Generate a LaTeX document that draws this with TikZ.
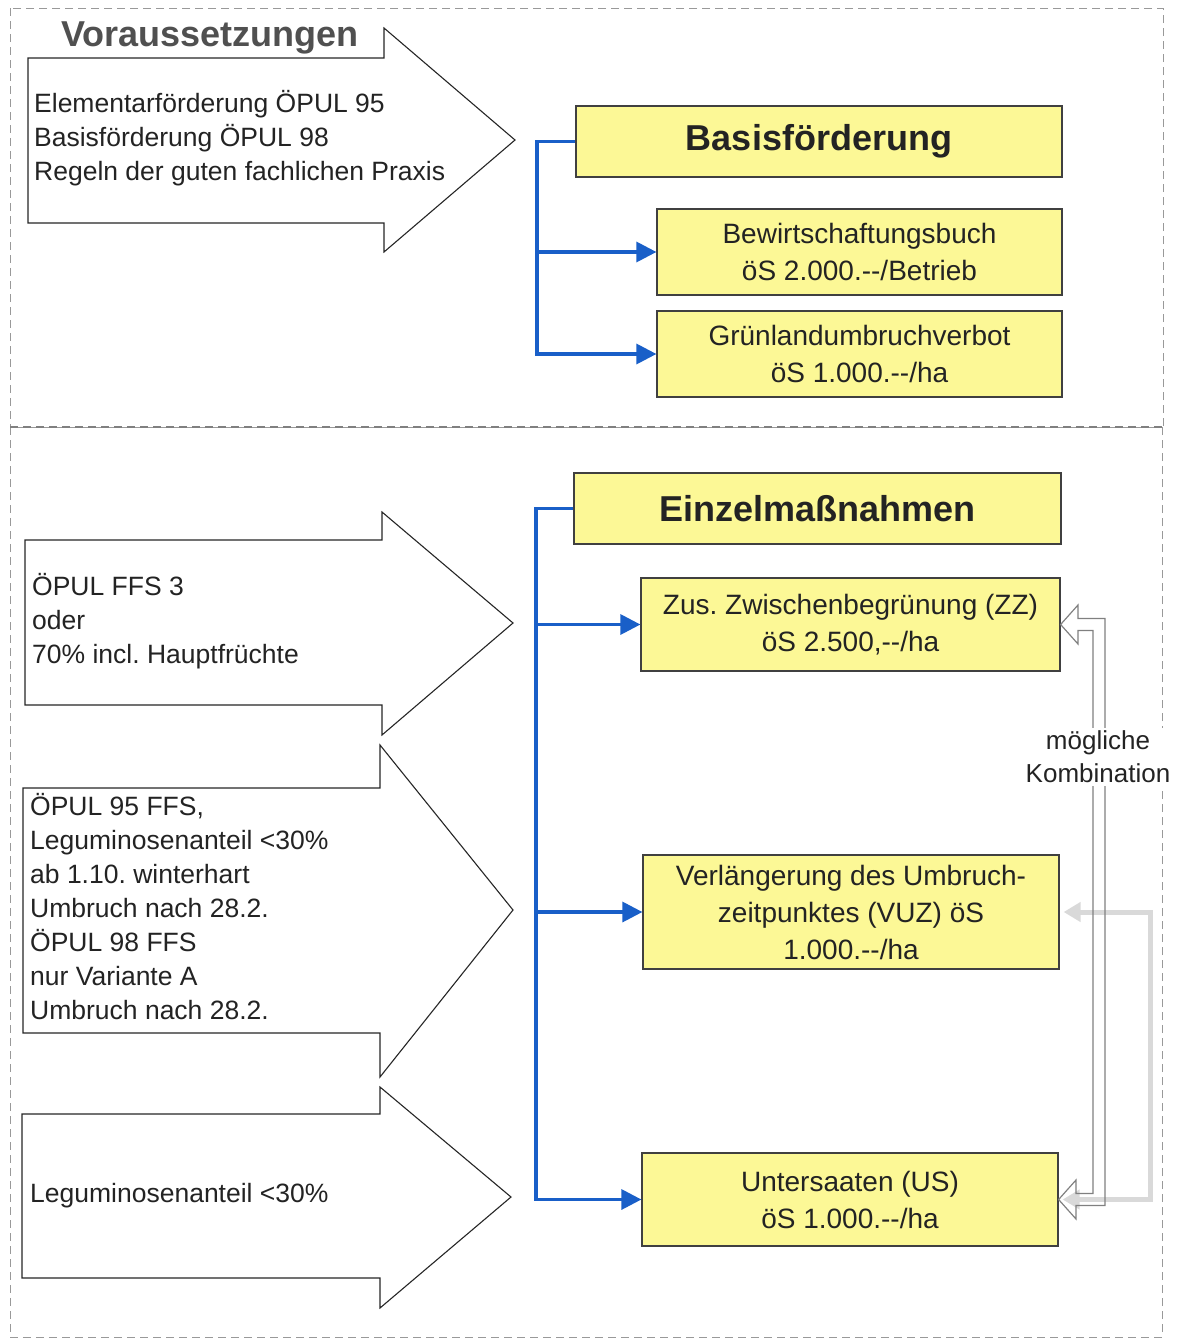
\documentclass[tikz,border=0pt]{standalone}
\usepackage{fontspec}
\setmainfont{Liberation Sans}
\usetikzlibrary{arrows.meta}
\definecolor{boxyellow}{RGB}{252,248,150}
\definecolor{connblue}{RGB}{25,95,200}
\definecolor{txt}{RGB}{35,35,35}
\definecolor{titlegray}{RGB}{80,80,80}
\frenchspacing
\begin{document}
\frenchspacing
\begin{tikzpicture}[x=1pt,y=-1pt,
  frame/.style={draw=gray!80, dash pattern=on 8pt off 5pt, line width=1pt},
  midframe/.style={draw=gray, dash pattern=on 8pt off 5pt, line width=1.2pt},
  blockarrow/.style={draw=black!85, fill=white, line width=1.1pt, line join=miter},
  ybox/.style={draw=black!75, fill=boxyellow, line width=1.2pt, inner sep=0pt, align=center, text=txt, font=\fontsize{28}{37}\selectfont},
  headbox/.style={ybox, font=\fontsize{36}{40}\selectfont\bfseries},
  lefttext/.style={anchor=west, inner sep=0pt, align=left, text=txt, font=\fontsize{26.5}{34}\selectfont},
  conn/.style={draw=connblue, line width=3.2pt, -{Triangle[length=20pt,width=20pt]}},
  grayconn/.style={draw=gray!30, line width=5pt, {Triangle[length=17pt,width=19pt]}-{Triangle[length=17pt,width=19pt]}},
  hollow/.style={draw=gray, line width=1.2pt, line join=miter}
]
\useasboundingbox (0,0) rectangle (1182,1341);

% dashed frames
\draw[frame] (10,8) rectangle (1163,427);
\draw[frame] (10,427) rectangle (1162,1337);
\draw[midframe] (10,427) -- (1163,427);

% block arrows
\draw[blockarrow] (28,58) -- (384,58) -- (384,28) -- (515,140) -- (384,252) -- (384,223) -- (28,223) -- cycle;
\draw[blockarrow] (25,540) -- (382,540) -- (382,512) -- (513,623) -- (382,735) -- (382,705) -- (25,705) -- cycle;
\draw[blockarrow] (23,788) -- (380,788) -- (380,745) -- (513,910) -- (380,1077) -- (380,1033) -- (23,1033) -- cycle;
\draw[blockarrow] (22,1114) -- (380,1114) -- (380,1087) -- (511,1197) -- (380,1308) -- (380,1278) -- (22,1278) -- cycle;

\node[anchor=center, inner sep=0pt, text=titlegray, font=\fontsize{36}{40}\selectfont\bfseries] (vor) at (210,38) {Voraussetzungen};

\node[lefttext] (t1) at (34,138) {Elementarförderung ÖPUL 95\\Basisförderung ÖPUL 98\\Regeln der guten fachlichen Praxis};
\node[lefttext] (t2) at (32,621) {ÖPUL FFS 3\\oder\\70\% incl. Hauptfrüchte};
\node[lefttext] (t3) at (30,907) {ÖPUL 95 FFS,\\Leguminosenanteil <30\%\\ab 1.10. winterhart\\Umbruch nach 28.2.\\ÖPUL 98 FFS\\nur Variante A\\Umbruch nach 28.2.};
\node[lefttext] (t4) at (30,1196) {Leguminosenanteil <30\%};

% yellow boxes
\node[headbox, minimum width=486pt, minimum height=71pt] (basis) at (819,141.5) {Basisförderung};
\node[ybox, minimum width=405pt, minimum height=86pt] (bew) at (859.5,252) {Bewirtschaftungsbuch\\öS 2.000.-{}-/Betrieb};
\node[ybox, minimum width=405pt, minimum height=86pt] (gruen) at (859.5,354) {Grünlandumbruchverbot\\öS 1.000.-{}-/ha};
\node[headbox, minimum width=487pt, minimum height=71pt] (einzel) at (817.5,508.5) {Einzelmaßnahmen};
\node[ybox, minimum width=419pt, minimum height=93pt] (zz) at (850.5,624.5) {Zus. Zwischenbegrünung (ZZ)\\öS 2.500,-{}-/ha};
\node[ybox, minimum width=416pt, minimum height=114pt] (vuz) at (851,912) {Verlängerung des Umbruch-\\zeitpunktes (VUZ) öS\\1.000.-{}-/ha};
\node[ybox, minimum width=416pt, minimum height=93pt] (us) at (850,1199.5) {Untersaaten (US)\\öS 1.000.-{}-/ha};

% blue connectors
\coordinate (bj) at (537,141.5);
\draw[conn] (basis.west) -- (bj) |- (gruen.west);
\draw[conn] (bj |- bew.west) -- (bew.west);
\coordinate (ej) at (536,508.5);
\draw[conn] (einzel.west) -- (ej) |- (us.west);
\draw[conn] (ej |- zz.west) -- (zz.west);
\draw[conn] (ej |- vuz.west) -- (vuz.west);

% grey combination line VUZ <-> US
\coordinate (gk) at (1150,1199.5);
\draw[grayconn] ([xshift=4pt]vuz.east) -| (gk) -- ([xshift=4pt]us.east);

% hollow double arrow ZZ <-> US
\draw[hollow] (1078,618.5) -- (1078,605) -- (zz.east) -- (1078,644) -- (1078,630.5)
  -- (1093,630.5) -- (1093,1193.5) -- (1076,1193.5) -- (1076,1180) -- (us.east)
  -- (1076,1219) -- (1076,1205.5) -- (1105,1205.5) -- (1105,618.5) -- cycle;

\node[fill=white, inner sep=3pt, align=center, text=txt, font=\fontsize{26}{33}\selectfont] (komb) at (1098,757) {mögliche\\Kombination};
\end{tikzpicture}
\end{document}
